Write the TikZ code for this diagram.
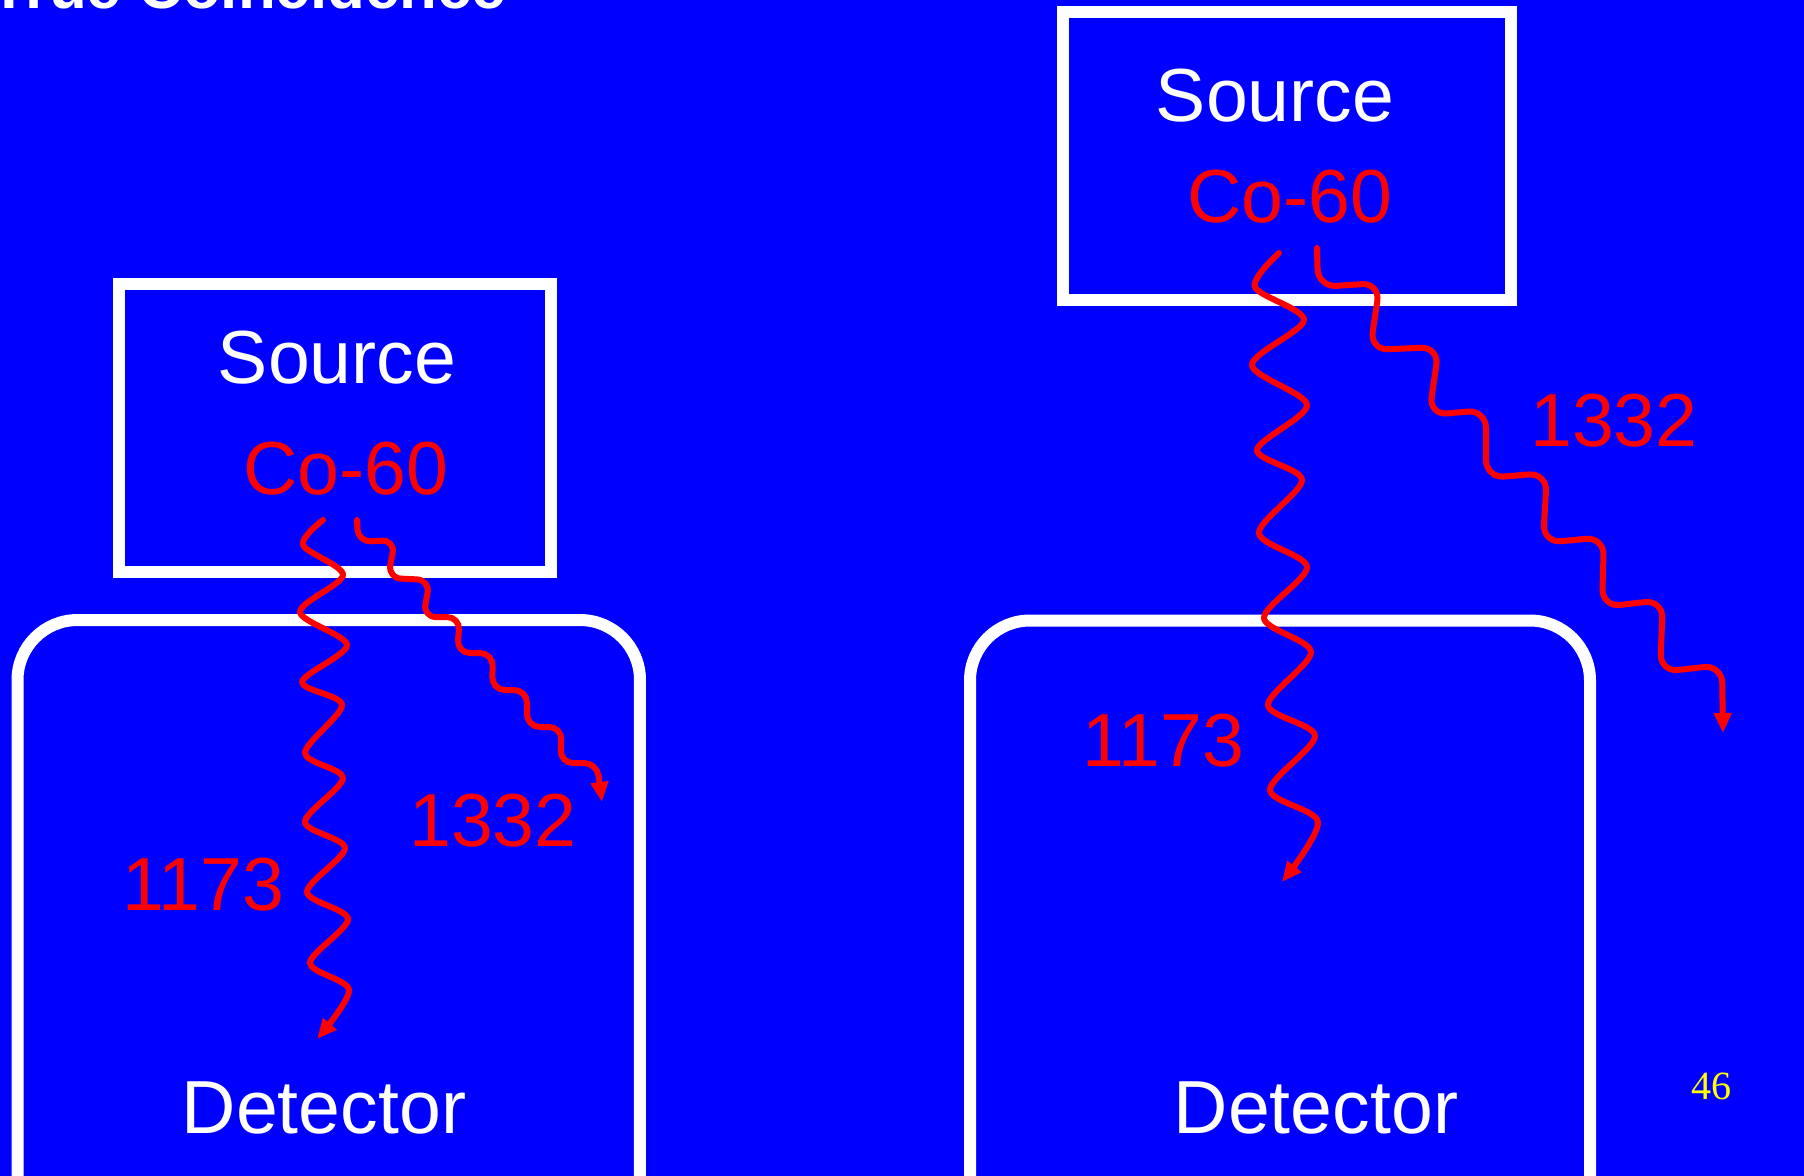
\documentclass[tikz,border=0pt]{standalone}
\usepackage{fontspec}
\setmainfont{Liberation Sans}
\newfontfamily\serifnum{Liberation Serif}
\usetikzlibrary{arrows.meta}
\definecolor{bgblue}{RGB}{0,0,255}
\definecolor{rayred}{RGB}{255,0,0}
\definecolor{numyellow}{RGB}{255,255,0}
\begin{document}
\begin{tikzpicture}[x=0.1mm,y=-0.1mm,
  boxframe/.style={draw=white, line width=1.2mm, inner sep=0pt, outer sep=0pt},
  detbox/.style={boxframe, rounded corners=6mm},
  lbl/.style={inner sep=0pt, anchor=base, font=\fontsize{21.4pt}{25pt}\selectfont},
  whitelbl/.style={lbl, text=white},
  redlbl/.style={lbl, text=rayred},
  ray/.style={draw=rayred, line width=0.6mm, line cap=round, line join=round,
    -{Triangle[length=2mm,width=1.7mm]}},
]
\useasboundingbox (0,0) rectangle (1804,1176);
\clip (0,0) rectangle (1804,1176);
\fill[bgblue] (0,0) rectangle (1804,1176);

% title (cut off at the top, as in the slide)
\node[inner sep=0pt, anchor=base west, text=white,
  font=\bfseries\fontsize{17.6pt}{20pt}\selectfont] (title) at (-10,8) {True Coincidence};

% detectors
\node[detbox, minimum width=62.25mm, minimum height=68mm] (det1) at (328.75,960) {};
\node[detbox, minimum width=62mm, minimum height=68mm] (det2) at (1280,960.5) {};

% sources
\node[boxframe, minimum width=43.2mm, minimum height=28.8mm] (src1) at (335,428) {};
\node[boxframe, minimum width=44.8mm, minimum height=28.8mm] (src2) at (1287,156) {};

% texts
\node[whitelbl] (src1name) at (337,383) {Source};
\node[redlbl] (src1iso) at (346,494) {Co-60};
\node[whitelbl] (src2name) at (1275,121) {Source};
\node[redlbl] (src2iso) at (1290,222) {Co-60};
\node[redlbl] (l1173a) at (203,910) {1173};
\node[redlbl] (l1332a) at (493,846) {1332};
\node[redlbl] (l1173b) at (1163,766) {1173};
\node[redlbl] (l1332b) at (1614,446) {1332};
\node[whitelbl] (det1name) at (324,1133) {Detector};
\node[whitelbl] (det2name) at (1316,1133) {Detector};
\node[inner sep=0pt, anchor=base, text=numyellow,
  font=\serifnum\fontsize{11.4pt}{13pt}\selectfont] (pnum) at (1711.5,1099) {46};

% gamma rays, left
\draw[ray] plot[smooth] coordinates {(323,520) (303,545) (343,575) (300,612) (347,645)
  (302,682) (342,705) (305,753) (343,778) (305,822) (345,848) (307,892) (348,919)
  (310,963) (349,990) (317,1039)};
\draw[ray, rounded corners=1.3mm] (357,520) -- (358,542) -- (395,540) -- (388,578)
  -- (430,580) -- (423,617) -- (460,617) -- (457,653) -- (493,653) -- (492,690)
  -- (527,690) -- (527,727) -- (562,727) -- (560,763) -- (597,763) -- (602,802);

% gamma rays, right
\draw[ray] plot[smooth] coordinates {(1279,253) (1255,287) (1304,320) (1252,365)
  (1307,405) (1257,450) (1302,480) (1259,533) (1307,567) (1264,618) (1311,652)
  (1268,705) (1315,736) (1270,790) (1318,822) (1282,882)};
\draw[ray, rounded corners=1.8mm] (1317,248) -- (1318,287) -- (1380,283) -- (1370,350)
  -- (1439,347) -- (1429,415) -- (1486,410) -- (1486,478) -- (1547,473) -- (1543,543)
  -- (1604,537) -- (1602,607) -- (1663,600) -- (1660,672) -- (1722,665) -- (1723,733);
\end{tikzpicture}
\end{document}
